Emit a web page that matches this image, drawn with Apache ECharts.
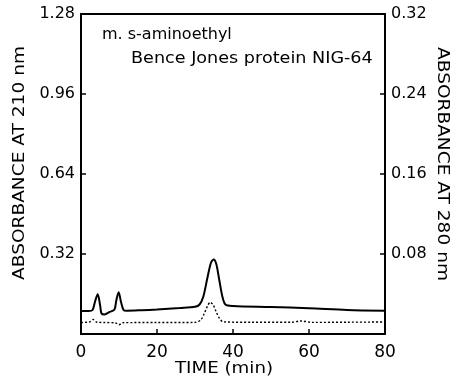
<!DOCTYPE html>
<html>
<head>
<meta charset="utf-8">
<script src="https://cdn.jsdelivr.net/npm/echarts@6/dist/echarts.min.js"></script>
<style>
  html, body { margin: 0; padding: 0; background: #fff; }
  #chart { width: 451px; height: 386px; }
</style>
</head>
<body>
<div id="chart"></div>
<script>
// absorbance at 210 nm (solid line, left axis)
const time210 = [0, 2, 3, 3.7, 4.4, 5, 5.4, 6.2, 7.5, 8.8, 9.3, 9.9, 10.5, 11.2, 12, 16, 20, 26, 30, 31.2, 32.2, 33.2, 34.2, 34.9, 35.6, 36.4, 37.2, 38, 40, 50, 60, 70, 80];
const abs210 = [0.092, 0.092, 0.095, 0.13, 0.159, 0.118, 0.082, 0.078, 0.088, 0.098, 0.135, 0.167, 0.13, 0.096, 0.093, 0.095, 0.098, 0.104, 0.109, 0.118, 0.15, 0.22, 0.285, 0.298, 0.28, 0.215, 0.15, 0.118, 0.112, 0.108, 0.103, 0.096, 0.093];

// absorbance at 280 nm (dotted line, right axis)
const time280 = [0, 2.2, 3.2, 4.2, 6, 9, 10, 11, 20, 30, 31.5, 32.5, 33.3, 34, 34.8, 35.6, 36.4, 37.4, 45, 55, 58, 61, 70, 80];
const abs280 = [0.0115, 0.012, 0.0145, 0.0118, 0.0115, 0.0112, 0.0093, 0.0113, 0.0115, 0.0116, 0.014, 0.021, 0.028, 0.0317, 0.029, 0.022, 0.016, 0.0122, 0.0117, 0.0117, 0.013, 0.0116, 0.0118, 0.012];

const xTicks = [0, 20, 40, 60, 80];
const leftTicks = [0.32, 0.64, 0.96, 1.28];
const rightTicks = [0.08, 0.16, 0.24, 0.32];

const font = "'DejaVu Sans', sans-serif";
const chart = echarts.init(document.getElementById("chart"));

function tickText(list, v) {
  const t = list.find(x => Math.abs(x - v) < 1e-6);
  return t === undefined ? "" : t.toFixed(2);
}

// plain text helper for titles / notes
function label(text, x, y, opts) {
  return Object.assign({
    type: "text",
    x: x,
    y: y,
    style: { text: text, font: "16px " + font, fill: "#000", align: "center", verticalAlign: "middle" }
  }, opts || {});
}

chart.setOption({
  animation: false,
  grid: {
    left: 81,
    right: 66,
    top: 14,
    bottom: 52,
    show: true,
    borderColor: "#000",
    borderWidth: 2
  },
  xAxis: {
    type: "value",
    min: 0,
    max: 80,
    interval: 20,
    axisLine: { show: true, lineStyle: { color: "#000", width: 2 } },
    axisTick: { show: true, inside: true, length: 5, lineStyle: { color: "#000", width: 1.5 } },
    splitLine: { show: false },
    axisLabel: {
      margin: 10,
      fontFamily: font,
      fontSize: 17,
      color: "#000",
      formatter: v => (xTicks.indexOf(v) >= 0 ? String(v) : "")
    }
  },
  yAxis: [
    {
      type: "value",
      min: 0,
      max: 1.28,
      interval: 0.32,
      position: "left",
      axisLine: { show: true, lineStyle: { color: "#000", width: 2 } },
      axisTick: { show: true, inside: true, length: 5, lineStyle: { color: "#000", width: 1.5 } },
      splitLine: { show: false },
      axisLabel: {
        margin: 6,
        fontFamily: font,
        fontSize: 16,
        color: "#000",
        formatter: v => tickText(leftTicks, v)
      }
    },
    {
      type: "value",
      min: 0,
      max: 0.32,
      interval: 0.08,
      position: "right",
      axisLine: { show: true, lineStyle: { color: "#000", width: 2 } },
      axisTick: { show: true, inside: true, length: 5, lineStyle: { color: "#000", width: 1.5 } },
      splitLine: { show: false },
      axisLabel: {
        margin: 6,
        fontFamily: font,
        fontSize: 16,
        color: "#000",
        formatter: v => tickText(rightTicks, v)
      }
    }
  ],
  graphic: [
    label("ABSORBANCE AT 210 nm", 20, 163, { rotation: Math.PI / 2, scaleX: 1.16 }),
    label("ABSORBANCE AT 280 nm", 442, 164, { rotation: -Math.PI / 2, scaleX: 1.16 }),
    label("TIME (min)", 224, 369, { scaleX: 1.14 }),
    {
      type: "text",
      x: 102, y: 35,
      style: { text: "m. s-aminoethyl", font: "16px " + font, fill: "#000", align: "left", verticalAlign: "middle" }
    },
    {
      type: "text",
      x: 131, y: 59,
      scaleX: 1.1,
      style: { text: "Bence Jones protein NIG-64", font: "16px " + font, fill: "#000", align: "left", verticalAlign: "middle" }
    }
  ],
  series: [
    {
      name: "210 nm",
      type: "line",
      yAxisIndex: 0,
      smooth: 0.3,
      symbol: "none",
      lineStyle: { color: "#000", width: 2 },
      data: time210.map((t, i) => [t, abs210[i]])
    },
    {
      name: "280 nm",
      type: "line",
      yAxisIndex: 1,
      smooth: 0.3,
      symbol: "none",
      lineStyle: { color: "#000", width: 1.4, type: [2, 2] },
      data: time280.map((t, i) => [t, abs280[i]])
    }
  ]
});
</script>
</body>
</html>
